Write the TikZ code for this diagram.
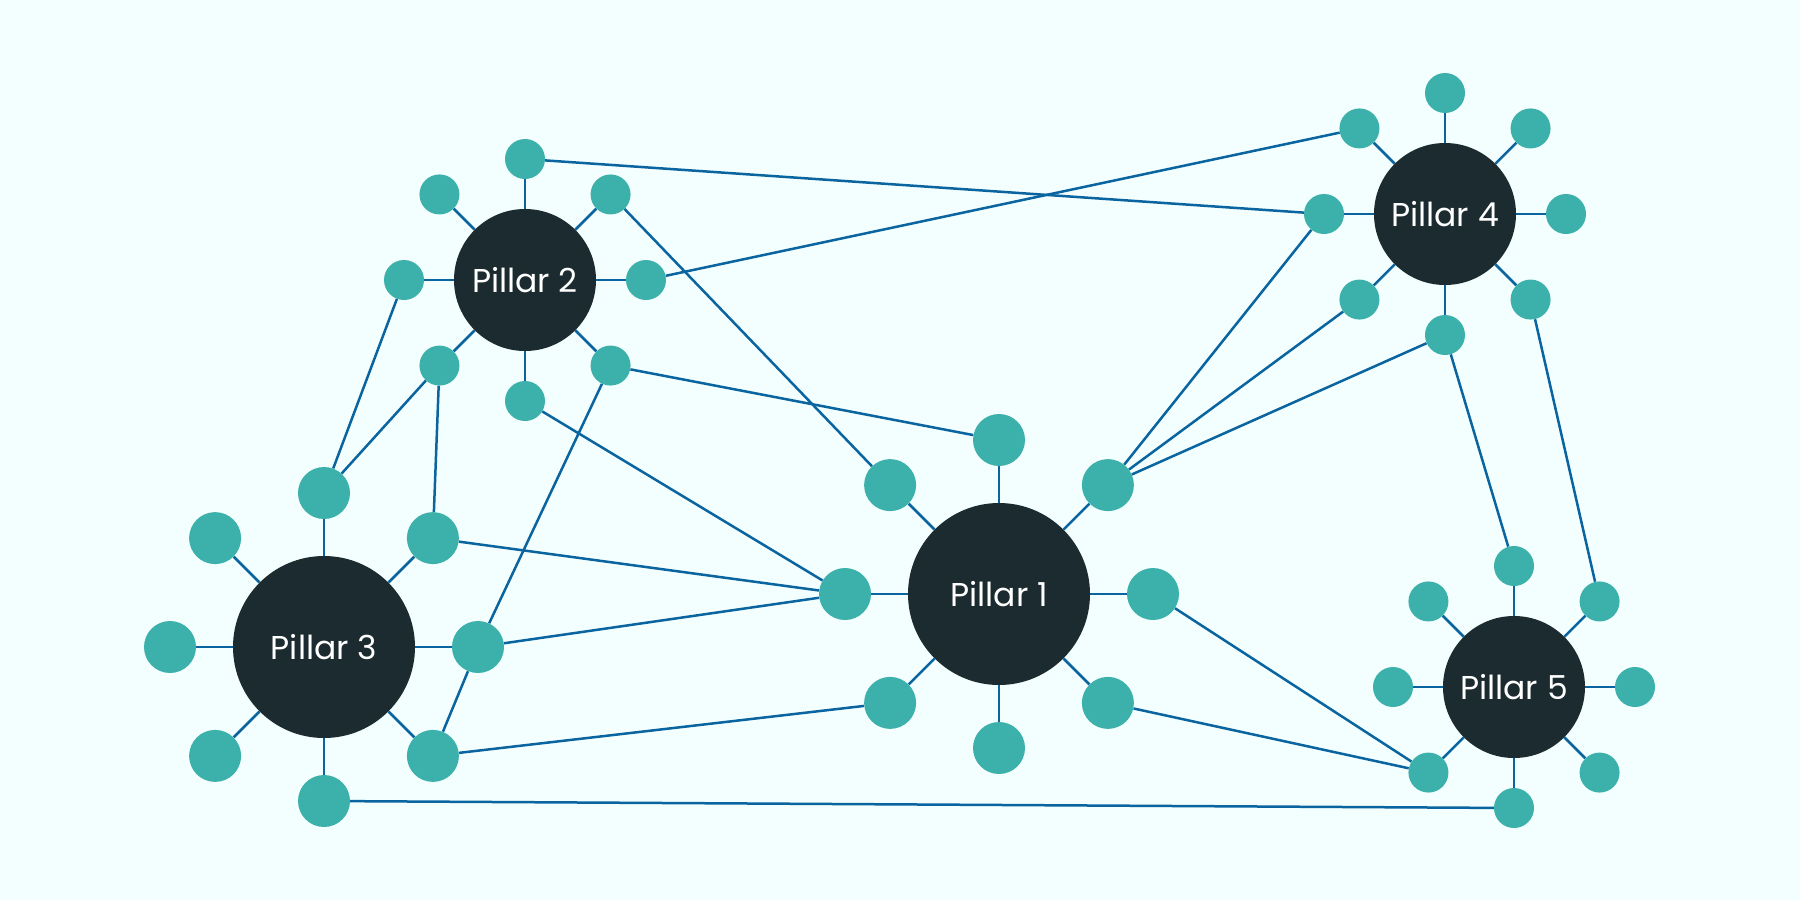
\documentclass[tikz,border=0pt]{standalone}
\usepackage{fontspec}
\setmainfont{Poppins}
\usetikzlibrary{positioning}
\definecolor{pagebg}{HTML}{F3FFFE}
\definecolor{darkfill}{HTML}{1B2B2F}
\definecolor{tealfill}{HTML}{3CB0AA}
\definecolor{linkblue}{HTML}{0A64A0}
\pgfdeclarelayer{back}
\pgfsetlayers{back,main}

\begin{document}
\begin{tikzpicture}[
    x=1pt, y=-1pt,
    pillar/.style={circle, fill=darkfill, text=white, inner sep=0pt, font=\fontsize{33}{38}\selectfont},
    bigpillar/.style={pillar, minimum size=182pt},
    smallpillar/.style={pillar, minimum size=142pt},
    sat/.style={circle, fill=tealfill, inner sep=0pt},
    link/.style={line width=2.5pt, linkblue}
]
    \useasboundingbox (0,0) rectangle (1800,900);

    % Pillars
    \node (p1) [bigpillar] at (999,594) {Pillar 1};
    \node (p2) [smallpillar] at (525,280) {Pillar 2};
    \node (p3) [bigpillar] at (324,647) {Pillar 3};
    \node (p4) [smallpillar] at (1445,214) {Pillar 4};
    \node (p5) [smallpillar] at (1514,687) {Pillar 5};

    % Satellites round each pillar
    \foreach \p/\d/\s in {p1/154pt/52pt, p3/154pt/52pt, p2/121pt/40pt, p4/121pt/40pt, p5/121pt/40pt}
        \foreach \a in {0,45,...,315}
            \node (\p-\a) [sat, minimum size=\s] at ([shift={(\a:\d)}]\p) {};

    \begin{pgfonlayer}{back}
    \fill [pagebg] (0,0) rectangle (1800,900);

    % Spokes
    \foreach \p in {p1,p2,p3,p4,p5}
        \foreach \a in {0,45,...,315}
            \draw [link] (\p) -- (\p-\a);

    % Links
    \draw [link] (p2-90) -- (p4-180);
    \draw [link] (p2-0) -- (p4-135);
    \draw [link] (p2-45) -- (p1-135);
    \draw [link] (p2-315) -- (p1-90);
    \draw [link] (p2-315) -- (p3-0);
    \draw [link] (p3-0) -- (p3-315);
    \draw [link] (p2-270) -- (p1-180);
    \draw [link] (p2-180) -- (p3-90);
    \draw [link] (p2-225) -- (p3-90);
    \draw [link] (p2-225) -- (p3-45);
    \draw [link] (p3-45) -- (p1-180);
    \draw [link] (p3-0) -- (p1-180);
    \draw [link] (p3-315) -- (p1-225);
    \draw [link] (p3-270) -- (p5-270);
    \draw [link] (p1-45) -- (p4-180);
    \draw [link] (p1-45) -- (p4-225);
    \draw [link] (p1-45) -- (p4-270);
    \draw [link] (p1-0) -- (p5-225);
    \draw [link] (p1-315) -- (p5-225);
    \draw [link] (p4-270) -- (p5-90);
    \draw [link] (p4-315) -- (p5-45);
    \end{pgfonlayer}
\end{tikzpicture}
\end{document}
